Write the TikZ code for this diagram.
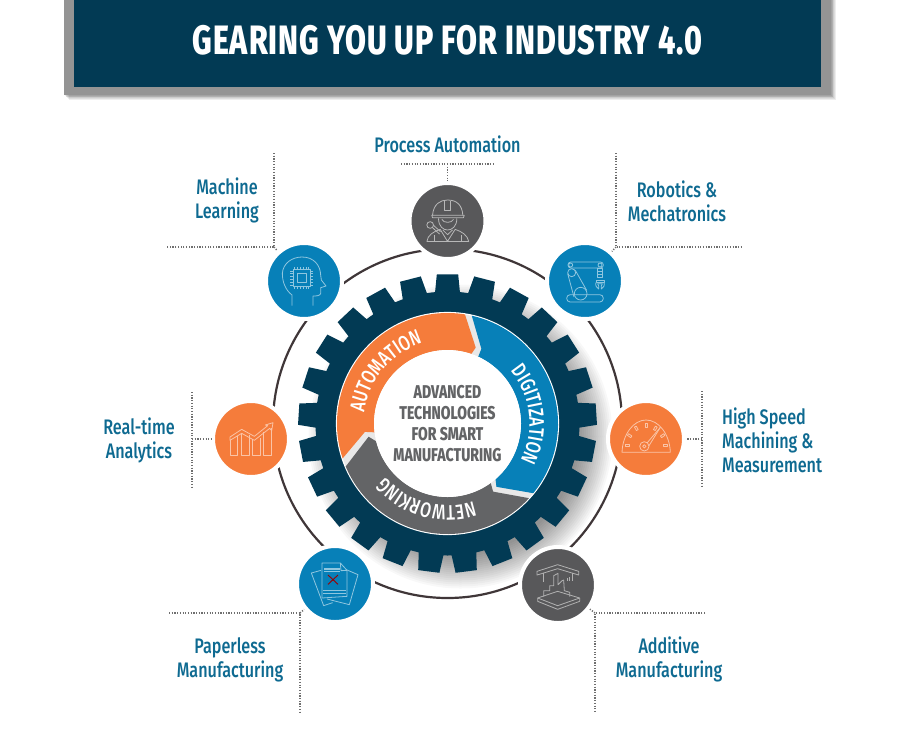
\documentclass[tikz,border=0pt]{standalone}
\usepackage{fontspec}
\usetikzlibrary{decorations.text}
\setmainfont[FakeStretch=0.77]{Fira Sans Medium}
\newfontfamily\heavyfont[FakeStretch=0.74,LetterSpace=2.4]{Fira Sans ExtraBold}
\newfontfamily\corefont[FakeStretch=0.76]{Fira Sans ExtraBold}
\newfontfamily\ringfont[FakeStretch=0.76]{Fira Sans Medium}
\definecolor{navy}{HTML}{023A54}
\definecolor{hubblue}{HTML}{0780B8}
\definecolor{huborange}{HTML}{F57C3B}
\definecolor{hubgray}{HTML}{58585A}
\definecolor{seggray}{HTML}{636466}
\definecolor{labelteal}{HTML}{0E6A91}
\definecolor{ringline}{HTML}{3F3638}
\definecolor{dots}{HTML}{6F6F6F}
\tikzset{
  hub/.style={circle,minimum size=76pt,inner sep=0pt,draw=white,line width=4pt},
  label/.style={text=labelteal,font=\fontsize{21}{24}\selectfont,align=center,inner sep=0pt},
  leader/.style={draw=dots,line width=1.5pt,dash pattern=on 1.2pt off 1.5pt},
  iconb/.style={draw=#1,line width=0.8pt,line join=round,fill=none},
  core/.style={text=seggray,font=\corefont\fontsize{18.5}{21}\selectfont,align=center,inner sep=0pt},
  ringtext/.style={decorate,decoration={text along path,text align=center,
     text={|\ringfont\color{white}\fontsize{21}{21}\selectfont|#1}}}
}
\begin{document}
\begin{tikzpicture}[x=1pt,y=-1pt]
\useasboundingbox (0,0) rectangle (909,732);
\fill[white] (0,0) rectangle (909,732);
% header
\foreach \s in {1,...,6}{\fill[black,opacity=0.07] (64+\s*0.8,0) rectangle (831+\s*0.8,95+\s*0.8);}
\fill[black!42] (64,0) rectangle (831,95);
\node[fill=navy,minimum width=747pt,minimum height=87pt,inner sep=0pt,anchor=north west] (head) at (74,0) {};
\node[text=white,font=\heavyfont\fontsize{41}{41}\selectfont,inner sep=0pt] (title) at (447.5,40) {GEARING YOU UP FOR INDUSTRY 4.0};
% gear anchor
\coordinate (gear) at (447.5,423.5);
\coordinate (shadowc) at (460.5,436.5);
\foreach \r in {118,120,...,152}{\fill[black,opacity=0.028] (shadowc) circle[radius=\r];}
\draw[ringline,line width=2.2pt] (gear) circle[radius=174.5];
% gear
\begin{scope}[shift={(gear)},x=1pt,y=1pt]
\fill[navy] (84.6:132)
  \foreach \i in {0,...,24}{
    -- ({90+14.4*\i-4.1}:149.5) -- ({90+14.4*\i+4.1}:149.5) -- ({90+14.4*\i+5.4}:132)
    arc ({90+14.4*\i+5.4}:{90+14.4*\i+9}:132)
  } -- cycle;
\fill[black!9,draw=white,line width=1.2pt] (0,0) circle[radius=111];
\fill[huborange] (198.4:110.5) arc (198.4:80.9:110.5) -- (69.6:81) -- (71.1:73.5) arc (71.1:186.9:73.5) -- (185.8:83) -- cycle;
\fill[hubblue] (77.3:110.5) arc (77.3:-39.1:110.5) -- (-52.3:80) -- (-49.2:73.5) arc (-49.2:65.3:73.5) -- (65.6:82) -- cycle;
\fill[seggray] (-42.5:110.5) arc (-42.5:-157.1:110.5) -- (189.5:80) -- (194:73.5) arc (194:306:73.5) -- (-56.2:82) -- cycle;
\fill[white] (0,0) circle[radius=73.5];
\path[ringtext=AUTOMATION] (176:84) arc (176:104:84);
\path[ringtext=DIGITIZATION] (41:82) arc (41:-28:82);
\path[ringtext=NETWORKING] (-68:82) arc (-68:-143:82);
\end{scope}
\node[core] (coretext) at (447.5,424) {ADVANCED\\TECHNOLOGIES\\FOR SMART\\MANUFACTURING};
% hubs
\node[hub,fill=hubgray]   (proc) at (447.5,221) {};
\node[hub,fill=hubblue]   (ml)   at (304,281) {};
\node[hub,fill=hubblue]   (robo) at (585,281) {};
\node[hub,fill=huborange] (hs)   at (646,439) {};
\node[hub,fill=huborange] (rt)   at (251,439) {};
\node[hub,fill=hubblue]   (pl)   at (335,584) {};
\node[hub,fill=hubgray]   (add)  at (558,585) {};
% leaders
\coordinate (procL) at (401,164); \coordinate (procR) at (495,164); \coordinate (procM) at (447.5,164);
\draw[leader] (procL) -- (procR); \draw[leader] (procM) -- (proc);
\coordinate (mlT) at (274,153); \coordinate (mlC) at (274,247); \coordinate (mlL) at (166,247);
\draw[leader] (mlT) -- (mlC) -- (mlL); \draw[leader] (mlC) -- (ml);
\coordinate (roT) at (616,153); \coordinate (roC) at (616,247); \coordinate (roR) at (741,247);
\draw[leader] (roT) -- (roC) -- (roR); \draw[leader] (roC) -- (robo);
\coordinate (hsT) at (702,391); \coordinate (hsB) at (702,488); \coordinate (hsM) at (702,439);
\draw[leader] (hsT) -- (hsB); \draw[leader] (hsM) -- (hs);
\coordinate (rtT) at (192,392); \coordinate (rtB) at (192,488); \coordinate (rtM) at (192,439);
\draw[leader] (rtT) -- (rtB); \draw[leader] (rtM) -- (rt);
\coordinate (plL) at (169,613); \coordinate (plC) at (300,613); \coordinate (plB) at (300,712);
\draw[leader] (plL) -- (plC) -- (plB); \draw[leader] (plC) -- (pl);
\coordinate (adR) at (705,613); \coordinate (adC) at (595,613); \coordinate (adB) at (595,712);
\draw[leader] (adR) -- (adC) -- (adB); \draw[leader] (adC) -- (add);
% labels
\node[label] (lproc) at (447.5,144) {Process Automation};
\node[label] (lml) at (227,200) {Machine\\Learning};
\node[label] (lrobo) at (677,201) {Robotics \&\\Mechatronics};
\node[label,align=left,anchor=west] (lhs) at (722,440) {High Speed\\Machining \&\\Measurement};
\node[label] (lrt) at (139,440.5) {Real-time\\Analytics};
\node[label] (lpl) at (230,659.5) {Paperless\\Manufacturing};
\node[label] (ladd) at (669,659.5) {Additive\\Manufacturing};
% ICONS (coordinates are zoomed reference units, 3 per px)
% worker
\begin{scope}[shift={(proc)},x=0.3333pt,y=-0.3333pt]\begin{scope}[shift={(-562,-123)}]
\tikzset{every path/.style={iconb=black!28}}
\draw (517,106) .. controls (520,72) and (540,60) .. (562,60) .. controls (590,60) and (606,75) .. (608,106);
\draw (515,106) -- (612,106) -- (610,113) -- (517,113) -- cycle;
\draw (553,62) -- (553,92) -- (571,92) -- (571,62);
\draw (535,115) .. controls (535,140) and (550,150) .. (562,150) .. controls (575,150) and (590,140) .. (590,115);
\draw (545,118) .. controls (550,130) and (575,130) .. (580,118);
\draw (500,185) .. controls (502,165) and (520,155) .. (540,148) -- (562,184) -- (585,148) .. controls (605,155) and (622,165) .. (626,185);
\draw (500,185) -- (626,185);
\draw (522,185) -- (522,165); \draw (603,185) -- (603,165);
\draw (548,150) -- (562,164) -- (577,150);
\draw (510,135) circle[radius=10];
\draw (516,142) -- (538,162); \draw (520,136) -- (541,155);
\end{scope}\end{scope}
% machine learning head
\begin{scope}[shift={(ml)},x=0.3333pt,y=-0.3333pt]\begin{scope}[shift={(-131,-303)}]
\tikzset{every path/.style={iconb=hubblue!45!white}}
\draw (95,377) -- (95,345) .. controls (75,330) and (66,305) .. (66,280) .. controls (68,250) and (95,231) .. (125,231) .. controls (160,231) and (180,255) .. (181,285) -- (183,300) -- (197,318) -- (181,323) -- (181,340) .. controls (180,347) and (170,348) .. (158,348) -- (158,377);
\draw (98,268) rectangle (150,320);
\draw (110,280) rectangle (138,308);
\foreach \t in {0,1,2,3,4,5}{
  \draw (103+\t*8.5,268) -- (103+\t*8.5,260); \draw (103+\t*8.5,320) -- (103+\t*8.5,328);
  \draw (98,273+\t*8.5) -- (90,273+\t*8.5); \draw (150,273+\t*8.5) -- (158,273+\t*8.5);
}
\end{scope}\end{scope}
% robot arm
\begin{scope}[shift={(robo)},x=0.3333pt,y=-0.3333pt]\begin{scope}[shift={(-135,-122)}]
\tikzset{every path/.style={iconb=hubblue!45!white}}
\draw[rounded corners=3.5pt] (80,163) rectangle (190,185);
\draw[rounded corners=2.8pt] (84,65) rectangle (190,83);
\draw (92,74) circle[radius=6]; \draw (180,74) circle[radius=6];
\draw (95,97) circle[radius=12];
\draw (83,100) -- (102,170); \draw (106,90) -- (140,150);
\draw (122,160) circle[radius=19];
\draw (172,85) rectangle (188,112);
\draw (172,94) -- (188,94); \draw (172,103) -- (188,103);
\draw (168,120) rectangle (192,126);
\draw (168,126) .. controls (165,136) and (170,142) .. (176,146) -- (176,137) -- (173,130) -- (187,130) -- (184,137) -- (184,146) .. controls (190,142) and (195,136) .. (192,126);
\end{scope}\end{scope}
% gauge
\begin{scope}[shift={(hs)},x=0.3333pt,y=-0.3333pt]\begin{scope}[shift={(-317,-600)}]
\tikzset{every path/.style={iconb=huborange!45!white}}
\draw (245,640) -- (390,640) .. controls (388,585) and (355,543) .. (317,543) .. controls (280,543) and (247,585) .. (245,640) -- cycle;
\foreach \px/\py/\rr in {260/618/0,268/590/-35,288/568/-60,317/558/-90,345/568/-120,367/590/-145,375/618/0}{
  \draw[rotate around={\rr:(\px,\py)}] (\px-6,\py-3) rectangle (\px+6,\py+3);
}
\draw (360,565) -- (320,612) ; \draw (360,565) -- (326,620);
\draw (312,622) circle[radius=14];
\draw (312,622) circle[radius=5];
\end{scope}\end{scope}
% chart
\begin{scope}[shift={(rt)},x=0.3333pt,y=-0.3333pt]\begin{scope}[shift={(-150,-120)}]
\tikzset{every path/.style={iconb=huborange!45!white}}
\draw (87,122) -- (87,170) -- (110,170) -- (110,112);
\draw (120,103) -- (120,170) -- (145,170) -- (145,108);
\draw (155,120) -- (155,170) -- (178,170) -- (178,118);
\draw (188,100) -- (188,170) -- (210,170) -- (210,88);
\draw (87,114) -- (122,91) -- (160,112) -- (200,80) -- (193,78) -- (216,71) -- (212,95) -- (206,88) -- (160,124) -- (122,103) -- (87,124) -- cycle;
\end{scope}\end{scope}
% documents
\begin{scope}[shift={(pl)},x=0.3333pt,y=-0.3333pt]\begin{scope}[shift={(-404,-553)}]
\tikzset{every path/.style={iconb=hubblue!45!white}}
\draw (362,512) -- (333,520) -- (370,618) -- (397,609);
\draw (438,510) -- (473,525) -- (447,615) -- (380,598);
\draw[fill=hubblue] (365,490) -- (420,490) -- (440,512) -- (440,590) -- (365,595) -- cycle;
\draw (420,490) -- (422,513) -- (440,512);
\fill[hubblue!45!white,draw=none] (370,506) rectangle (418,510);
\fill[hubblue!45!white,draw=none] (370,514) rectangle (418,518);
\fill[hubblue!45!white,draw=none] (368,570) rectangle (438,574);
\fill[hubblue!45!white,draw=none] (368,580) rectangle (438,584);
\draw[draw=red!60!black,line width=0.9pt] (383,526) -- (413,554) (413,526) -- (383,554);
\end{scope}\end{scope}
% additive
\begin{scope}[shift={(add)},x=0.3333pt,y=-0.3333pt]\begin{scope}[shift={(-143,-133)}]
\tikzset{every path/.style={iconb=black!30}}
\draw (80,92) -- (142,72) -- (205,92) -- (205,103) -- (185,97) -- (142,84) -- (100,97) -- (80,103) -- cycle;
\draw (100,97) -- (100,125); \draw (187,97) -- (187,122);
\draw (82,172) -- (142,152) -- (208,172) -- (142,195) -- cycle;
\draw (82,172) -- (82,182) -- (142,206) -- (208,182) -- (208,172);
\draw (100,168) -- (100,150) -- (118,150) -- (118,135) -- (130,135) -- (130,105) -- (143,98) -- (143,132) -- (155,120) -- (160,118) -- (162,150) -- (178,155) -- (178,168);
\draw (170,112) -- (170,122); \draw (178,110) -- (178,122);
\end{scope}\end{scope}
\end{tikzpicture}
\end{document}
